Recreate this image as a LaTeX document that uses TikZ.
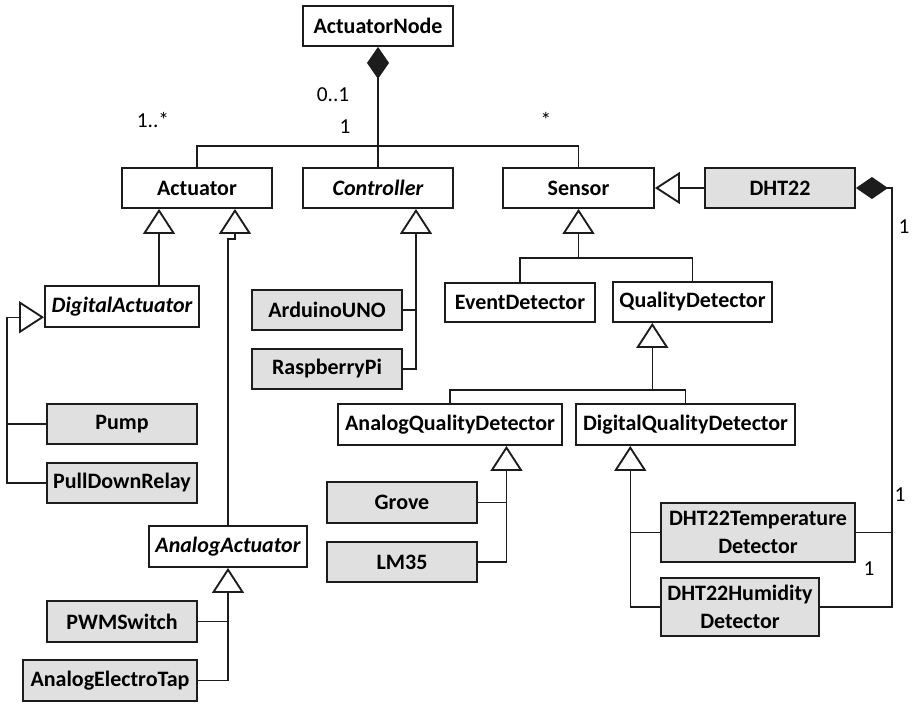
\documentclass[tikz,border=0pt]{standalone}
\usepackage{fontspec}
\setmainfont{Carlito}
\usetikzlibrary{arrows.meta,calc}
\definecolor{hwfill}{RGB}{224,224,224}
\definecolor{ink}{RGB}{28,28,28}

\begin{document}
\begin{tikzpicture}[x=0.75pt,y=-0.75pt,
  cls/.style 2 args={draw=ink, line width=1.4pt, fill=white, inner sep=0pt,
     minimum width={#1*0.75pt}, minimum height={#2*0.75pt},
     font=\fontsize{16.5}{20.5}\selectfont\bfseries, align=center},
  hw/.style={fill=hwfill},
  abstr/.style={font=\fontsize{16.5}{20.5}\selectfont\bfseries\itshape},
  link/.style={draw=ink, line width=0.9pt},
  gen/.style={link, -{Triangle[open, length=18.75pt, width=24pt, line width=1.4pt]}},
  comp/.style={link, -{Diamond[length=24pt, width=16.5pt]}},
  mult/.style={font=\fontsize{16}{19}\selectfont, inner sep=0pt, anchor=base}
]
\useasboundingbox (0,0) rectangle (912,703);

% classes
\node[cls={150}{40}] (an) at (378,26) {ActuatorNode};
\node[cls={150}{40}] (act) at (197,188) {Actuator};
\node[cls={150}{40}, abstr] (ctl) at (378,188) {Controller};
\node[cls={151}{40}] (sen) at (578.5,188) {Sensor};
\node[cls={150}{40}, hw] (dht) at (780,188) {DHT22};
\node[cls={154}{41}, abstr] (da) at (122,306.5) {DigitalActuator};
\node[cls={150}{40}, hw] (pump) at (122,424) {Pump};
\node[cls={150}{40}, hw] (pdr) at (122,483) {PullDownRelay};
\node[cls={158}{41}, abstr] (aa) at (228,546.5) {AnalogActuator};
\node[cls={150}{41}, hw] (pwm) at (122,621.5) {PWMSwitch};
\node[cls={174}{41}, hw] (aet) at (110,680.5) {AnalogElectroTap};
\node[cls={150}{40}, hw] (ard) at (327,310) {ArduinoUNO};
\node[cls={150}{40}, hw] (rpi) at (327,369) {RaspberryPi};
\node[cls={150}{39}] (ed) at (520,302.5) {EventDetector};
\node[cls={159}{40}] (qd) at (692.5,302) {QualityDetector};
\node[cls={224}{41}] (aqd) at (450,424.5) {AnalogQualityDetector};
\node[cls={219}{41}] (dqd) at (685.5,424.5) {DigitalQualityDetector};
\node[cls={150}{41}, hw] (grove) at (402,502.5) {Grove};
\node[cls={150}{40}, hw] (lm35) at (402,562) {LM35};
\node[cls={194}{59}, hw] (tmp) at (758,532.5) {DHT22Temperature\\Detector};
\node[cls={158}{58}, hw] (hum) at (740,607) {DHT22Humidity\\Detector};

% attachment points on the parent classes
\coordinate (actL) at ($(act.south west)!0.25!(act.south east)$);
\coordinate (actR) at ($(act.south west)!0.75!(act.south east)$);
\coordinate (actJ) at ($(actR)+(0,30)$);
\coordinate (daT) at ($(da.south west)!0.25!(da.north west)$);
\coordinate (dspine) at ($(pdr.west)+(-39,0)$);
\coordinate (ctlB) at ($(ctl.south west)!0.75!(ctl.south east)$);
\coordinate (sj) at ($(sen.south)+(0,49)$);
\coordinate (qdB) at ($(qd.south west)!0.25!(qd.south east)$);
\coordinate (qj) at ($(qdB)+(0,67)$);
\coordinate (aqdB) at ($(aqd.south west)!0.75!(aqd.south east)$);
\coordinate (dqdB) at ($(dqd.south west)!0.25!(dqd.south east)$);
\coordinate (dj) at ($(dht.east)+(36,0)$);
\coordinate (tj) at ($(an.south)+(0,99)$);

% ActuatorNode composition
\draw[comp] (ctl.north) -- (an.south);
\draw[link] (act.north) |- (tj) -| (sen.north);

% generalizations
\draw[gen] (da.north -| actL) -- (actL);
\draw[gen] (aa.north) |- (actJ) -- (actR);
\draw[gen] (pdr.west) -| (dspine) |- (daT);
\draw[link] (pump.west) -- (pump.west -| dspine);
\draw[gen] (aet.east) -| (aa.south);
\draw[link] (pwm.east) -- (pwm.east -| aa.south);
\draw[gen] (rpi.east) -| (ctlB);
\draw[link] (ard.east) -- (ard.east -| ctlB);
\draw[gen] (dht.west) -- (sen.east);
\draw[gen] (ed.north) |- (sj) -- (sen.south);
\draw[link] (qd.north) |- (sj);
\draw[gen] (aqd.north) |- (qj) -- (qdB);
\draw[link] (dqd.north) |- (qj);
\draw[gen] (lm35.east) -| (aqdB);
\draw[link] (grove.east) -- (grove.east -| aqdB);
\draw[gen] (hum.west) -| (dqdB);
\draw[link] (tmp.west) -- (tmp.west -| dqdB);

% DHT22 composition
\draw[comp] (hum.east) -| (dj) -- (dht.east);
\draw[link] (tmp.east) -- (tmp.east -| dj);

% multiplicities
\node[mult] (m01) at (333,101) {0..1};
\node[mult] (m1s) at (153,127.5) {1..*};
\node[mult] (m1a) at (345,133.5) {1};
\node[mult] (mst) at (546,127.5) {*};
\node[mult] (m1b) at (904,233.5) {1};
\node[mult] (m1c) at (900,501) {1};
\node[mult] (m1d) at (869,575) {1};
\end{tikzpicture}
\end{document}
